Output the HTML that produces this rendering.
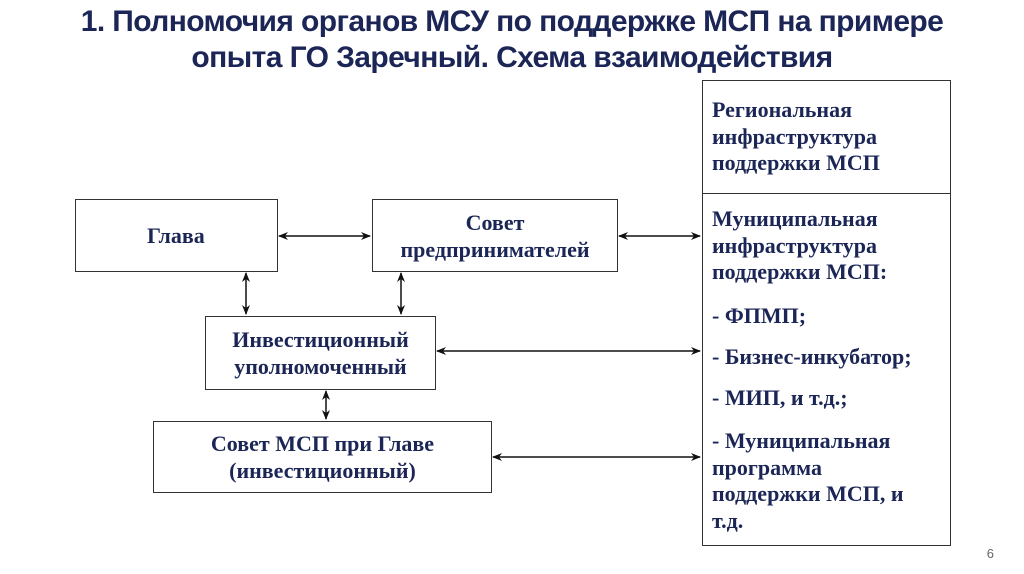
<!DOCTYPE html>
<html><head><meta charset="utf-8"><style>
body{margin:0;width:1024px;height:574px;background:#fff;position:relative;overflow:hidden;font-family:"Liberation Serif",serif;}
.t{position:absolute;left:0;width:1024px;text-align:center;font-family:"Liberation Sans",sans-serif;font-weight:bold;color:#1b2656;font-size:30px;line-height:36px;top:4px;letter-spacing:-0.6px}
.b{position:absolute;border:1.5px solid #333;box-sizing:border-box;display:flex;align-items:center;justify-content:center;text-align:center;font-weight:bold;color:#1b2656;font-size:22px;line-height:27px}
.r{position:absolute;left:712px;font-weight:bold;color:#1b2656;font-size:22px;line-height:26.5px;white-space:nowrap}
.n{position:absolute;right:30px;top:546px;font-family:"Liberation Sans",sans-serif;font-size:13px;color:#666}
</style></head><body>
<div class="t">1. Полномочия органов МСУ по поддержке МСП на примере<br>опыта ГО Заречный. Схема взаимодействия</div>
<div class="b" style="left:75px;top:199px;width:203px;height:73px;justify-content:flex-start;padding-left:71px">Глава</div>
<div class="b" style="left:372px;top:199px;width:246px;height:73px">Совет<br>предпринимателей</div>
<div class="b" style="left:205px;top:316px;width:231px;height:74px">Инвестиционный<br>уполномоченный</div>
<div class="b" style="left:153px;top:421px;width:339px;height:72px">Совет МСП при Главе<br>(инвестиционный)</div>
<div style="position:absolute;left:702px;top:80px;width:249px;height:466px;border:1.5px solid #333;box-sizing:border-box"></div>
<div style="position:absolute;left:702px;top:193px;width:249px;border-top:1.5px solid #333"></div>
<div class="r" style="top:97px">Региональная<br>инфраструктура<br>поддержки МСП</div>
<div class="r" style="top:206px">Муниципальная<br>инфраструктура<br>поддержки МСП:</div>
<div class="r" style="top:303px">- ФПМП;</div>
<div class="r" style="top:344px">- Бизнес-инкубатор;</div>
<div class="r" style="top:385px">- МИП, и т.д.;</div>
<div class="r" style="top:428px">- Муниципальная<br>программа<br>поддержки МСП, и<br>т.д.</div>
<svg width="1024" height="574" style="position:absolute;left:0;top:0">
<defs><marker id="a" markerWidth="10" markerHeight="8" refX="9" refY="4" orient="auto-start-reverse" markerUnits="userSpaceOnUse"><path d="M0,0 L10,4 L0,8 L3,4 Z" fill="#111"/></marker></defs>
<g stroke="#111" stroke-width="1.5" marker-start="url(#a)" marker-end="url(#a)">
<line x1="279" y1="236" x2="370" y2="236"/>
<line x1="619" y1="236" x2="700" y2="236"/>
<line x1="437" y1="351" x2="700" y2="351"/>
<line x1="493" y1="457" x2="700" y2="457"/>
<line x1="246" y1="273" x2="246" y2="314"/>
<line x1="401" y1="273" x2="401" y2="314"/>
<line x1="326" y1="391" x2="326" y2="419"/>
</g></svg>
<div class="n">6</div>
</body></html>
